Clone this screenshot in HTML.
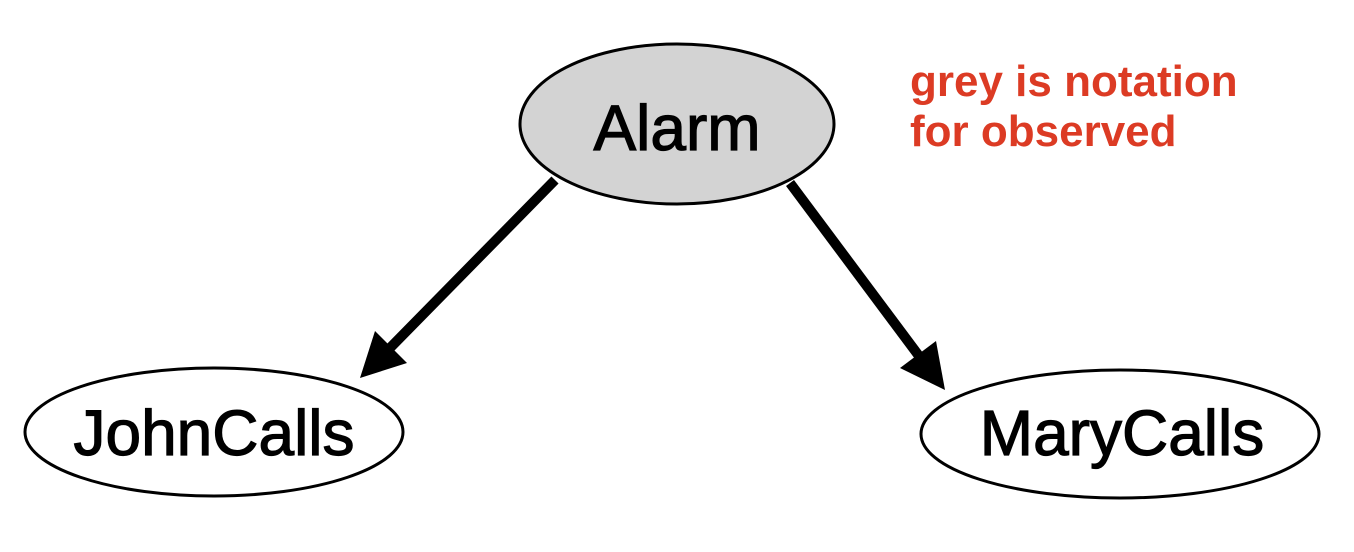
<!DOCTYPE html>
<html><head><meta charset="utf-8"><style>
html,body{margin:0;padding:0;background:#fff;}
svg{display:block;}
</style></head><body>
<svg width="1354" height="552" viewBox="0 0 1354 552" xmlns="http://www.w3.org/2000/svg">
<ellipse cx="677" cy="124" rx="157" ry="80" fill="#d3d3d3" stroke="#000" stroke-width="3"/>
<ellipse cx="214" cy="432" rx="189" ry="64" fill="#fff" stroke="#000" stroke-width="3"/>
<ellipse cx="1120" cy="434" rx="199" ry="64" fill="#fff" stroke="#000" stroke-width="3"/>
<line x1="555" y1="180" x2="388" y2="350" stroke="#000" stroke-width="10"/>
<polygon points="360,378 375,331 407,363" fill="#000"/>
<line x1="790" y1="183" x2="922" y2="360" stroke="#000" stroke-width="10"/>
<polygon points="945,390 900,368 936,341" fill="#000"/>
<g font-family="Liberation Sans, sans-serif" text-anchor="middle" fill="#000" stroke="#000" stroke-width="1.2">
<text x="677" y="150" font-size="64">Alarm</text>
<text x="214" y="455" font-size="64">JohnCalls</text>
<text x="1122" y="455" font-size="64">MaryCalls</text>
</g>
<g font-family="Liberation Sans, sans-serif" font-weight="bold" font-size="44" fill="#dc3b24">
<text x="910" y="96">grey is notation</text>
<text x="910" y="146">for observed</text>
</g>
</svg>
</body></html>
